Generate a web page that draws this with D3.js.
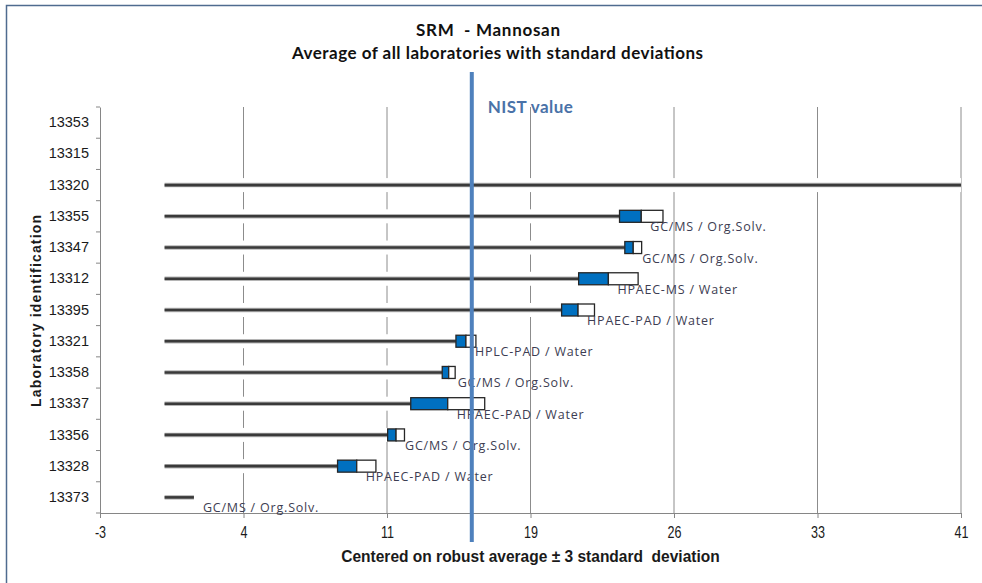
<!DOCTYPE html>
<html>
<head>
<meta charset="utf-8">
<script src="https://cdn.jsdelivr.net/npm/d3@7/dist/d3.min.js"></script>
<style>
  html, body { margin: 0; padding: 0; background: #fff; }
  svg { display: block; }
</style>
</head>
<body>
<script>
// Laboratories, top to bottom
const labs = ["13353","13315","13320","13355","13347","13312","13395","13321","13358","13337","13356","13328","13373"];
// Laboratory mean (centered units) and standard deviation; null = not reported
const means = [null, null, 46, 24.66, 24.25, 22.98, 21.43, 15.70, 14.82, 14.77, 12.13, 10.12, 1.80];
const sds   = [null, null, 0, 1.11, 0.43, 1.52, 0.84, 0.51, 0.33, 1.89, 0.43, 0.98, 0];
// Analytical method / extraction solvent per laboratory
const methods = ["", "", "", "GC/MS / Org.Solv.", "GC/MS / Org.Solv.", "HPAEC-MS / Water", "HPAEC-PAD / Water",
  "HPLC-PAD / Water", "GC/MS / Org.Solv.", "HPAEC-PAD / Water", "GC/MS / Org.Solv.", "HPAEC-PAD / Water", "GC/MS / Org.Solv."];
// Reference value and bar origin
const nistValue = 16.0;
const barStart = 0.3;
// Horizontal axis
const xDomain = [-3, 41];
const xTickLabels = ["-3","4","11","19","26","33","41"];

const W = 982, H = 583;
const plot = { left: 100, right: 961, top: 107, bottom: 513 };
const sansBold = "Lato, 'Open Sans', sans-serif";
const arial = "'Liberation Sans', Arial, sans-serif";

const svg = d3.select("body").append("svg").attr("width", W).attr("height", H);

// stretch letter spacing of a text element to a given width
function fitWidth(sel, w) {
  sel.attr("textLength", w).attr("lengthAdjust", "spacing");
}
// narrow the glyphs horizontally (condensed face look) around the anchor
function condense(sel, k) {
  sel.each(function () {
    const t = d3.select(this);
    const ax = +t.attr("x") || 0;
    t.attr("transform", `translate(${ax},0) scale(${k},1) translate(${-ax},0)`);
  });
}

// chart area border
svg.append("path")
  .attr("d", `M6.5,${H + 5} V5.5 H${W + 5}`)
  .attr("fill", "none").attr("stroke", "#4f6b8f").attr("stroke-width", 1.5);

const x = d3.scaleLinear().domain(xDomain).range([plot.left, plot.right]).clamp(true);
const y = d3.scaleBand().domain(labs).range([plot.top, plot.bottom]);

const xTickValues = d3.range(xTickLabels.length).map(i => xDomain[0] + i * (xDomain[1] - xDomain[0]) / (xTickLabels.length - 1));

// titles
const title = svg.append("g").attr("font-family", sansBold).attr("font-weight", "bold")
  .attr("fill", "#111").attr("text-anchor", "middle");
title.append("text").attr("x", 488).attr("y", 36).attr("font-size", 17).attr("xml:space", "preserve")
  .text("SRM  - Mannosan").call(fitWidth, 144);
title.append("text").attr("x", 497.5).attr("y", 59).attr("font-size", 17)
  .text("Average of all laboratories with standard deviations").call(fitWidth, 411);

// vertical gridlines
svg.append("g").selectAll("line").data(xTickValues.slice(1)).join("line")
  .attr("x1", d => x(d)).attr("x2", d => x(d))
  .attr("y1", plot.top).attr("y2", plot.bottom)
  .attr("stroke", "#8c8c8c").attr("stroke-width", 1);

// x axis
const xAxis = svg.append("g").attr("transform", `translate(0,${plot.bottom})`)
  .call(d3.axisBottom(x).tickValues(xTickValues).tickFormat((d, i) => xTickLabels[i]).tickSize(5).tickSizeOuter(0));
xAxis.select(".domain").attr("stroke", "#868686");
xAxis.selectAll(".tick line").attr("stroke", "#868686");
xAxis.selectAll(".tick text")
  .attr("font-family", arial)
  .attr("font-size", 17).attr("fill", "#1a1a1a").attr("dy", "0.71em").attr("y", 13)
  .call(condense, 0.74);

// y axis
const yAxis = svg.append("g").attr("transform", `translate(${plot.left},0)`)
  .call(d3.axisLeft(y).tickSize(0).tickPadding(11));
yAxis.select(".domain").attr("stroke", "#868686");
yAxis.selectAll(".tick text")
  .attr("font-family", arial)
  .attr("font-size", 14.5).attr("fill", "#1a1a1a");
// tick marks between categories
svg.append("g").selectAll("line").data(d3.range(labs.length + 1)).join("line")
  .attr("x1", plot.left - 4).attr("x2", plot.left)
  .attr("y1", i => plot.top + i * y.step()).attr("y2", i => plot.top + i * y.step())
  .attr("stroke", "#868686");

// axis titles
svg.append("text")
  .attr("transform", `translate(41,${(plot.top + plot.bottom) / 2 + 1}) rotate(-90)`)
  .attr("text-anchor", "middle")
  .attr("font-family", arial).attr("font-weight", "bold")
  .attr("font-size", 14).attr("fill", "#1a1a1a")
  .text("Laboratory identification").call(fitWidth, 192);
const xTitle = svg.append("text")
  .attr("x", 530.5).attr("y", 562)
  .attr("text-anchor", "middle")
  .attr("font-family", arial).attr("font-weight", "bold")
  .attr("font-size", 17).attr("fill", "#1a1a1a").attr("xml:space", "preserve")
  .text("Centered on robust average \u00b1 3 standard  deviation");
xTitle.call(condense, 379 / xTitle.node().getComputedTextLength());

// laboratory rows
const rows = labs.map((lab, i) => ({ lab, mean: means[i], sd: sds[i], method: methods[i] }))
  .filter(d => d.mean !== null);
const cy = d => y(d.lab) + y.bandwidth() / 2;
const boxH = 12;

const g = svg.append("g");
// white band behind each bar
g.selectAll("rect.band").data(rows).join("rect").attr("class", "band")
  .attr("x", x(barStart)).attr("y", d => cy(d) - 7)
  .attr("width", d => Math.max(0, x(d.mean + d.sd) - x(barStart)))
  .attr("height", 14).attr("fill", "#fff");
// bar from origin to mean - sd
g.selectAll("line.bar").data(rows).join("line").attr("class", "bar")
  .attr("x1", x(barStart)).attr("x2", d => x(d.mean - d.sd))
  .attr("y1", cy).attr("y2", cy)
  .attr("stroke", "#b5b5b5").attr("stroke-width", 4.5);
g.selectAll("line.barc").data(rows).join("line").attr("class", "barc")
  .attr("x1", x(barStart)).attr("x2", d => x(d.mean - d.sd))
  .attr("y1", cy).attr("y2", cy)
  .attr("stroke", "#3a3a3a").attr("stroke-width", 2.6);

// standard deviation boxes
const boxed = rows.filter(d => d.sd > 0);
g.selectAll("rect.lo").data(boxed).join("rect").attr("class", "lo")
  .attr("x", d => x(d.mean - d.sd)).attr("y", d => cy(d) - boxH / 2)
  .attr("width", d => x(d.mean) - x(d.mean - d.sd)).attr("height", boxH)
  .attr("fill", "#0070c0").attr("stroke", "#262626").attr("stroke-width", 1.3);
g.selectAll("rect.hi").data(boxed).join("rect").attr("class", "hi")
  .attr("x", d => x(d.mean)).attr("y", d => cy(d) - boxH / 2)
  .attr("width", d => x(d.mean + d.sd) - x(d.mean)).attr("height", boxH)
  .attr("fill", "#fff").attr("stroke", "#262626").attr("stroke-width", 1.3);

// method labels
g.selectAll("text.method").data(rows.filter(d => d.method)).join("text").attr("class", "method")
  .attr("x", d => x(d.mean) + 9).attr("y", d => cy(d) + 15)
  .attr("font-family", "'Open Sans', sans-serif").attr("font-size", 12.5)
  .attr("letter-spacing", 0.8)
  .attr("fill", "#3d3d52")
  .text(d => d.method);

// NIST reference line
svg.append("line")
  .attr("x1", x(nistValue)).attr("x2", x(nistValue))
  .attr("y1", 72).attr("y2", 542)
  .attr("stroke", "#4f81bd").attr("stroke-width", 4);
svg.append("text")
  .attr("x", x(nistValue) + 16).attr("y", 113)
  .attr("font-family", sansBold).attr("font-weight", "bold")
  .attr("font-size", 17).attr("fill", "#4a72a8")
  .text("NIST value").call(fitWidth, 85);
</script>
</body>
</html>
